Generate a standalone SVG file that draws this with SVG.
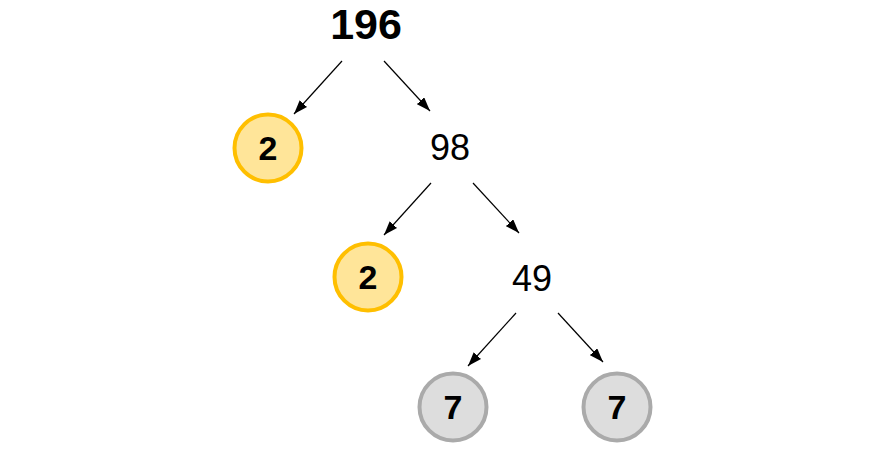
<svg xmlns="http://www.w3.org/2000/svg" width="870" height="450" viewBox="0 0 870 450">
<style>
.edge{stroke:#000;stroke-width:1.2;fill:none;marker-end:url(#ah)}
.y{fill:#FFE599;stroke:#FFBF00;stroke-width:4}
.g{fill:#DDDDDD;stroke:#AAAAAA;stroke-width:4}
.cl{font-family:"Liberation Sans",Arial,sans-serif;font-weight:bold;font-size:34px;text-anchor:middle;fill:#000}
.num{font-family:"Liberation Sans",Arial,sans-serif;font-size:36px;text-anchor:middle;fill:#000}
</style>
<defs>
<marker id="ah" viewBox="0 0 14 10" refX="14" refY="5" markerWidth="14" markerHeight="10" markerUnits="userSpaceOnUse" orient="auto">
<path d="M0,0 L14,5 L0,10 Z" fill="#000"/>
</marker>
</defs>
<rect width="870" height="450" fill="#fff"/>
<g id="connectors">
<line class="edge" x1="342" y1="61" x2="294" y2="114"/>
<line class="edge" x1="384" y1="61" x2="430" y2="111"/>
<line class="edge" x1="431" y1="183" x2="384" y2="235"/>
<line class="edge" x1="473" y1="183" x2="519" y2="233"/>
<line class="edge" x1="516" y1="313" x2="468" y2="366"/>
<line class="edge" x1="558" y1="313" x2="603" y2="362"/>
</g>
<g id="n196"><text x="366" y="39" font-family="'Liberation Sans',Arial,sans-serif" font-weight="bold" font-size="43" text-anchor="middle">196</text></g>
<g id="n2a"><circle class="y" cx="268" cy="148" r="33.5"/><text class="cl" x="268" y="160">2</text></g>
<g id="n98"><text class="num" x="450" y="160">98</text></g>
<g id="n2b"><circle class="y" cx="368" cy="277" r="33.5"/><text class="cl" x="368" y="289">2</text></g>
<g id="n49"><text class="num" x="532" y="291">49</text></g>
<g id="n7a"><circle class="g" cx="453" cy="407" r="33.5"/><text class="cl" x="453" y="419">7</text></g>
<g id="n7b"><circle class="g" cx="617" cy="407" r="33.5"/><text class="cl" x="617" y="419">7</text></g>
</svg>
